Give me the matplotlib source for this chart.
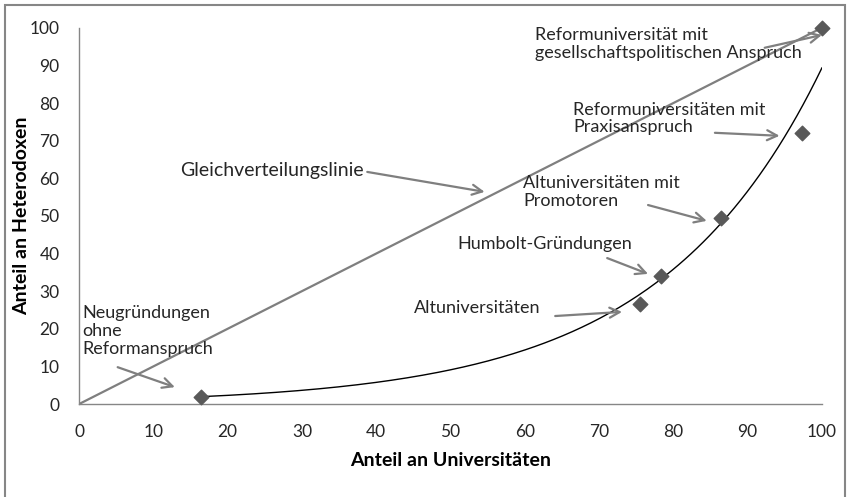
import numpy as np
import matplotlib
matplotlib.use("Agg")
from matplotlib import pyplot as plt
from matplotlib.patches import Rectangle

plt.rcParams['font.family'] = ['Lato', 'DejaVu Sans']

# data points
anteil_uni = [16.4, 75.5, 78.3, 86.4, 97.3, 100.0]
anteil_het = [2.0, 26.5, 34.0, 49.5, 72.0, 100.0]

ticks = [0, 10, 20, 30, 40, 50, 60, 70, 80, 90, 100]

# annotation labels: text, text anchor (x, y), arrow tail, arrow head, font size
labels = [
    ["Gleichverteilungslinie", (13.6, 62.0), (38.8, 61.7), (54.6, 56.4), 14],
    ["Reformuniversität mit\ngesellschaftspolitischen Anspruch", (61.4, 95.7), (92.3, 94.7), (100.0, 98.1), 13],
    ["Reformuniversitäten mit\nPraxisanspruch", (66.5, 75.9), (85.6, 72.1), (94.3, 71.3), 13],
    ["Altuniversitäten mit\nPromotoren", (59.8, 56.4), (76.6, 52.9), (84.5, 48.7), 13],
    ["Humbolt-Gründungen", (50.9, 42.6), (71.1, 38.8), (76.6, 34.6), 13],
    ["Altuniversitäten", (45.1, 25.5), (64.1, 23.4), (73.1, 24.5), 13],
    ["Neugründungen\nohne\nReformanspruch", (0.4, 19.4), (5.2, 9.8), (12.9, 4.5), 13],
]

fig = plt.figure(figsize=(8.48, 4.97), dpi=100)
ax = fig.add_axes([0.0932, 0.187, 0.876, 0.757])

# equal distribution line
ax.plot([0, 100], [0, 100], color='#7f7f7f', linewidth=1.6, zorder=2)

# exponential trendline fitted to the points (like Excel)
b, ln_a = np.polyfit(anteil_uni, np.log(anteil_het), 1)
xs = np.linspace(min(anteil_uni), max(anteil_uni), 200)
ax.plot(xs, np.exp(ln_a) * np.exp(b * xs), color='black', linewidth=1.0, zorder=3)

ax.scatter(anteil_uni, anteil_het, marker='D', s=55, color='#595959', zorder=4,
           clip_on=False)

for txt, pos, tail, head, fs in labels:
    ax.text(pos[0], pos[1], txt, fontsize=fs, color='#262626', ha='left',
            va='center', linespacing=1.15, zorder=5)
    ax.annotate('', xy=head, xytext=tail,
                arrowprops=dict(arrowstyle='->', color='#7f7f7f', lw=1.6,
                                mutation_scale=18, shrinkA=0, shrinkB=0))

ax.set_xlim(0, 100)
ax.set_ylim(0, 100)
ax.set_xticks(ticks)
ax.set_yticks(ticks)
ax.tick_params(length=0, labelsize=12.5, colors='#262626')
ax.tick_params(axis='x', pad=14)
ax.tick_params(axis='y', pad=14)
for s in ['top', 'right']:
    ax.spines[s].set_visible(False)
for s in ['left', 'bottom']:
    ax.spines[s].set_color('#868686')
    ax.spines[s].set_linewidth(1.0)

ax.set_xlabel('Anteil an Universitäten', fontsize=14, fontweight='bold')
ax.set_ylabel('Anteil an Heterodoxen', fontsize=14, fontweight='bold')
ax.xaxis.set_label_coords(0.5, -0.149)
ax.yaxis.set_label_coords(-0.077, 0.5)
ax.xaxis.label.set_va('center')
ax.yaxis.label.set_va('center')

fig.patches.append(Rectangle((5 / 848, -0.05), 840 / 848, 1.05 - 5 / 497,
                             transform=fig.transFigure, fill=False,
                             edgecolor='#868686', linewidth=1.5))

fig.savefig('out.png', dpi=100)
